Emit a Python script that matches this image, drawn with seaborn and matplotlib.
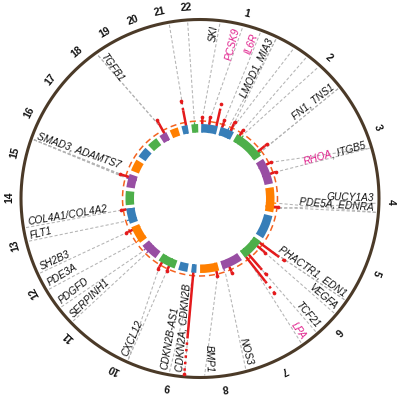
import numpy as np
import matplotlib
matplotlib.use('Agg')
import matplotlib.pyplot as plt
import seaborn as sns

# chromosome sizes (Mb) and stretches without SNPs (centromere/heterochromatin)
chrom_len = [249, 242, 198, 190, 181, 171, 159, 145, 138, 134, 135, 133,
             114, 107, 102, 90, 83, 80, 59, 64, 47, 51]
no_snp_chrom = [1, 9]
no_snp_start = [121, 39]
no_snp_end = [143, 68]

# genome-wide significant loci: chromosome, position (Mb), -log10(p) of the dense streak and the peak
hit_chrom = [1, 1, 1, 1, 1, 2, 2, 3, 3, 4, 6, 6, 6, 6, 7, 8, 9, 10, 10, 12, 13, 15, 19, 21]
hit_pos = [2.2, 55.5, 109.8, 154.4, 222.8, 21.2, 203.7, 49.4, 124.5, 148.4, 12.9, 43.7,
           134.2, 161.0, 107.0, 22.0, 22.1, 44.8, 104.7, 111.9, 110.9, 79.1, 41.8, 35.6]
hit_dense = [8.5, 9.0, 15.0, 8.5, 10.0, 8.5, 11.0, 8.0, 8.0, 7.8, 19.0, 10.0,
             16.5, 25.0, 8.5, 8.0, 45.7, 8.0, 8.5, 8.5, 7.8, 10.0, 12.5, 15.0]
hit_peak = [10.0, 10.5, 19.7, 10.0, 11.5, 9.5, 12.7, 9.0, 9.0, 8.2, 24.1, 12.0,
            21.6, 34.3, 9.5, 8.5, 69.8, 9.0, 10.0, 10.0, 8.5, 11.4, 15.2, 21.0]

# gene labels and the loci they point to
gene_text = ["SKI", "PCSK9", "IL6R", "LMOD1, MIA3", "", "", "", "FN1, TNS1", "RHOA, ITGB5",
             "GUCY1A3", "PDE5A, EDNRA", "PHACTR1, EDN1", "VEGFA", "TCF21", "LPA", "NOS3",
             "BMP1", "CDKN2A, CDKN2B", "CDKN2B-AS1", "CXCL12", "SERPINH1", "PDGFD", "PDE3A",
             "SH2B3", "FLT1", "COL4A1/COL4A2", "SMAD3, ADAMTS7", "TGFB1", "", ""]
gene_src_chrom = [[1], [1], [1], [1, 1], [1], [2], [2], [2, 2], [3, 3],
                  [4], [4, 4], [6, 6], [6], [6], [6], [7],
                  [8], [9], [9], [10, 10], [11], [11], [12],
                  [12], [13], [13], [15, 15, 15, 15], [19, 19], [21], [22]]
gene_src_pos = [[2.2], [55.5], [154.4], [201.9, 222.8], [230.0], [21.2], [44.0], [216.3, 218.7], [49.4, 124.5],
                [156.6], [120.5, 148.4], [12.3, 12.9], [43.7], [134.2], [161.0], [150.7],
                [22.0], [22.0], [22.1], [44.8, 104.7], [75.3], [103.7], [20.2],
                [111.9], [29.0], [110.9], [67.4, 70.0, 76.0, 79.1], [41.8, 44.0], [35.6], [24.6]]
highlight_genes = ["PCSK9", "IL6R", "RHOA", "LPA"]

# layout: angle (deg, clockwise from top) where each label line meets the outer ring
label_angle = [6.5, 14, 20, 25.5, 32, 37, 42, 51.5, 73.5,
               91.5, 94.5, 125, 130.5, 139, 145, 165,
               178.5, 185, 190, 204, 226, 232, 239,
               245, 256, 260.5, 289.5, 324.5, 350, 356]

THRESH = -np.log10(5e-8)
BULK = 5.4
BUMP = 6.6
R0 = 66
PX = (77.5 - R0) / THRESH
R_OUT = 179
R_TXT = 174

sns.set_style('white')
plt.rcParams['font.family'] = ['Liberation Sans', 'DejaVu Sans']

set1 = sns.color_palette('Set1')
ring_colors = [set1[1], set1[2], set1[3], set1[4]]
RED = set1[0]
PINK = '#e0208c'

GAP = 2.93
deg_per_mb = (360 - GAP * len(chrom_len)) / sum(chrom_len)
cum = np.concatenate([[0], np.cumsum(chrom_len)[:-1]])
chrom_start = np.arange(len(chrom_len)) * GAP + GAP / 2 + cum * deg_per_mb


def ang(chrom, pos):
    return np.deg2rad(chrom_start[chrom - 1] + pos * deg_per_mb)


def rad(v):
    return R0 + PX * v


fig = plt.figure(figsize=(4.0, 3.97), dpi=100)
ax = fig.add_axes([0, 0, 1, 1], projection='polar')
ax.set_theta_zero_location('N')
ax.set_theta_direction(-1)
ax.set_ylim(0, 198.5)
ax.set_axis_off()

# chromosome blocks
for i, L in enumerate(chrom_len):
    segs = [(0, L)]
    if i + 1 in no_snp_chrom:
        j = no_snp_chrom.index(i + 1)
        segs = [(0, no_snp_start[j]), (no_snp_end[j], L)]
    for a, b in segs:
        t0, t1 = ang(i + 1, a), ang(i + 1, b)
        ax.bar((t0 + t1) / 2, PX * BULK, width=t1 - t0, bottom=R0,
               color=ring_colors[i % 4], linewidth=0, zorder=2)

# little bumps where SNPs approach the threshold
bump_c = hit_chrom + [c for cs in gene_src_chrom for c in cs]
bump_p = hit_pos + [p for ps in gene_src_pos for p in ps]
for c, p in zip(bump_c, bump_p):
    ax.bar(ang(c, p), PX * BUMP, width=np.deg2rad(1.0), bottom=R0,
           color=ring_colors[(c - 1) % 4], linewidth=0, zorder=2)

# threshold and outer rings
circ = np.linspace(0, 2 * np.pi, 721)
ax.plot(circ, np.full_like(circ, rad(THRESH)), color='#f4621f', lw=1.1,
        ls=(0, (4, 2.5)), zorder=3)
ax.plot(circ, np.full_like(circ, R_OUT), color='#4b3a28', lw=2.2, zorder=3)

# dashed label lines
for cs, ps, la in zip(gene_src_chrom, gene_src_pos, label_angle):
    for c, p in zip(cs, ps):
        ax.plot([ang(c, p), np.deg2rad(la)], [rad(THRESH) + 2, R_OUT - 2],
                color='#b4b4b4', lw=0.75, ls=(0, (3, 2)), zorder=1)

# significant SNP streaks
th = [ang(c, p) for c, p in zip(hit_chrom, hit_pos)]
for t, d, pk in zip(th, hit_dense, hit_peak):
    ax.plot([t, t], [rad(BULK), rad(d)], color=RED, lw=1.8, solid_capstyle='butt', zorder=4)
    ax.plot([t, t], [rad(d), rad(pk)], color=RED, lw=1.8, ls=(0, (1, 1.6)), zorder=4)
sns.scatterplot(x=th, y=[rad(v) for v in hit_peak], color=RED, s=7, linewidth=0,
                ax=ax, zorder=5, legend=False)

# chromosome numbers
for i in range(len(chrom_len)):
    mid = chrom_start[i] + chrom_len[i] * deg_per_mb / 2
    ax.text(np.deg2rad(mid), 191, str(i + 1), rotation=-mid, rotation_mode='anchor',
            ha='center', va='center', fontsize=7.5, fontweight='bold', color='#111111')

# gene labels
renderer = fig.canvas.get_renderer()
fp = matplotlib.font_manager.FontProperties(family=['Liberation Sans', 'DejaVu Sans'],
                                            style='italic', size=7.3)


def width_px(s):
    w, _, _ = renderer.get_text_width_height_descent(s, fp, ismath=False)
    return w


for s, la in zip(gene_text, label_angle):
    if not s:
        continue
    t = np.deg2rad(la)
    first = s.split(',')[0].split('/')[0]
    if first in highlight_genes:
        parts = [(first, PINK), (s[len(first):], '#111111')]
    else:
        parts = [(s, '#111111')]
    parts = [p for p in parts if p[0]]
    if la < 180:
        rot = 90 - la
        r = R_TXT
        for txt, col in reversed(parts):
            ax.text(t, r, txt, rotation=rot, rotation_mode='anchor', ha='right',
                    va='bottom', fontproperties=fp, color=col, zorder=6)
            r -= width_px(txt)
    else:
        rot = 270 - la
        r = R_TXT
        for txt, col in parts:
            ax.text(t, r, txt, rotation=rot, rotation_mode='anchor', ha='left',
                    va='bottom', fontproperties=fp, color=col, zorder=6)
            r -= width_px(txt)

fig.savefig('out.png', dpi=100)
